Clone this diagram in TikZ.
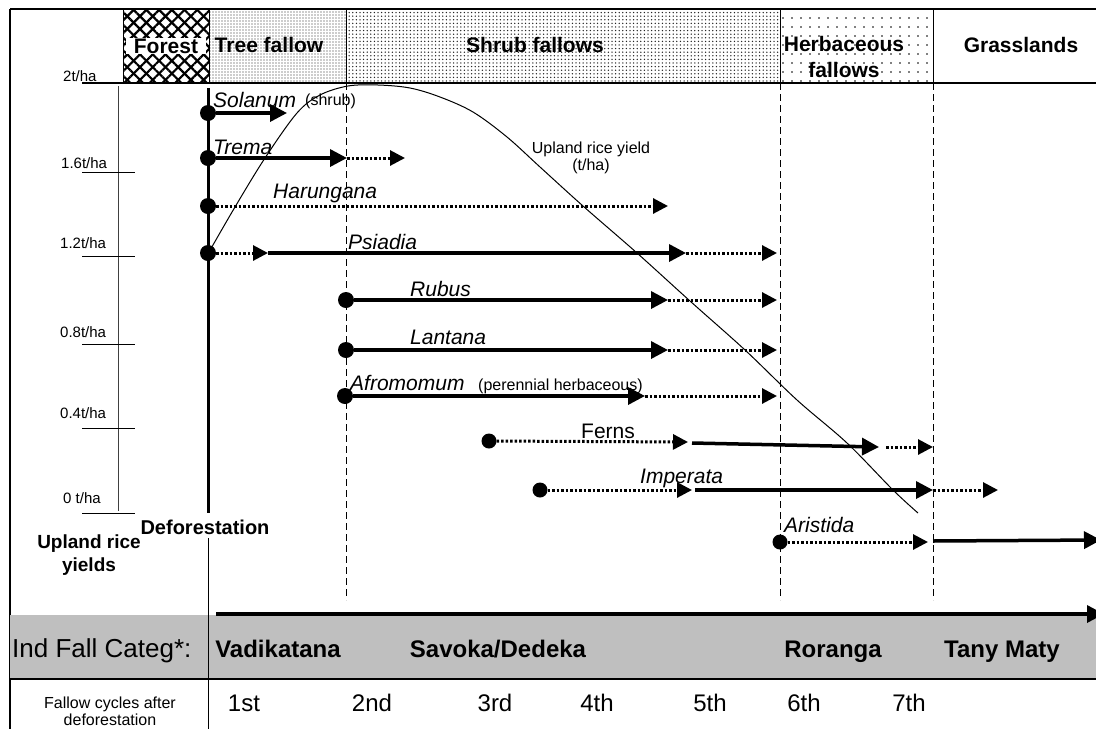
\documentclass[tikz,border=0pt]{standalone}
\usepackage{fontspec}
\setmainfont{Liberation Sans}
\usetikzlibrary{arrows.meta,patterns,patterns.meta}
\tikzset{
  frame/.style={line width=1.5pt},
  sepline/.style={line width=0.9pt,dash pattern=on 7pt off 4pt},
  hdr/.style={font=\fontsize{21}{26}\selectfont\bfseries,align=center,inner sep=1pt},
  spname/.style={font=\fontsize{21}{24}\selectfont\itshape,anchor=west,inner sep=0pt},
  note/.style={font=\fontsize{16}{17}\selectfont,inner sep=0pt},
  ylbl/.style={font=\fontsize{15}{17}\selectfont,anchor=west,inner sep=0pt},
  sdot/.style={circle,fill,inner sep=0pt,minimum size=16pt},
  full/.style={-{Triangle[length=17pt,width=17pt]},line width=3.5pt},
  part/.style={-{Triangle[length=15pt,width=15pt]},line width=3pt,dash pattern=on 2.5pt off 2pt},
  catlbl/.style={font=\fontsize{24}{26}\selectfont\bfseries,anchor=base},
  cyclbl/.style={font=\fontsize{24}{26}\selectfont,anchor=base}
}
\begin{document}
\begin{tikzpicture}[x=1pt,y=-1pt]
  \useasboundingbox (0,0) rectangle (1096,729);

  % header band
  \fill[pattern={Lines[angle=45,distance=9pt,line width=2.2pt]}] (123,9) rectangle (209,83);
  \fill[pattern={Lines[angle=-45,distance=9pt,line width=2.2pt]}] (123,9) rectangle (209,83);
  \fill[pattern={Dots[distance=3pt,radius=0.7pt]},pattern color=black!85] (209,9) rectangle (346,83);
  \fill[pattern={Dots[distance=3.6pt,radius=0.75pt]},pattern color=black!85] (346,9) rectangle (780,83);
  \fill[pattern={Dots[distance=9pt,radius=0.8pt]}] (780,9) rectangle (933,83);
  \draw[frame] (10,9) -- (1096,9);
  \draw[frame] (10,9) -- (10,729);
  \draw[line width=1.2pt] (82,83) -- (1096,83);
  \foreach \x in {123,209,346,780,933}
    \draw[line width=1pt] (\x,9) -- (\x,83);

  \node[hdr,fill=white,minimum width=80pt] (forest) at (166,46) {Forest};
  \node[hdr] (treef) at (269,45) {Tree fallow};
  \node[hdr] (shrubf) at (535,45) {Shrub fallows};
  \node[hdr] (herbf) at (844,57) {Herbaceous\\fallows};
  \node[hdr] (grassl) at (1021,45) {Grasslands};

  % stage limits
  \foreach \x in {346,780,933}
    \draw[sepline] (\x,83) -- (\x,600);

  % yield axis
  \draw[line width=0.9pt,black!75] (118,86) -- (118,511);
  \foreach \y in {172,256,344,428,513}
    \draw[line width=0.9pt] (82,\y) -- (135,\y);
  \node[ylbl] (y20) at (63,76) {2t/ha};
  \node[ylbl] (y16) at (61,163) {1.6t/ha};
  \node[ylbl] (y12) at (60,243) {1.2t/ha};
  \node[ylbl] (y08) at (60,332) {0.8t/ha};
  \node[ylbl] (y04) at (60,413) {0.4t/ha};
  \node[ylbl] (y00) at (63,498) {0 t/ha};
  \node[font=\fontsize{19}{23}\selectfont\bfseries,align=center] (ylds) at (89,555) {Upland rice\\yields};

  % deforestation
  \coordinate (defTop) at (208,88);
  \coordinate (defBot) at (208,513);
  \draw[line width=3pt] (defTop) -- (defBot);
  \node[font=\fontsize{20}{22}\selectfont\bfseries] (defo) at (205,527) {Deforestation};

  % yield curve
  \draw[line width=1pt] plot[smooth,tension=0.55] coordinates {(209,252) (235,207) (265,158) (297,113) (320,95) (348,86) (378,85) (410,88) (440,97) (473,112) (507,137) (540,167) (583,206) (637,253) (690,301) (745,350) (797,400) (847,443) (893,490) (918,513)};
  \node[note,align=center] (ylab) at (591,158) {Upland rice yield\\(t/ha)};

  % species
  \node[sdot] (solanum) at (208,113) {};
  \coordinate (solA) at (287,113);
  \draw[full] (solanum) -- (solA);
  \node[spname] (solT) at (213,100) {Solanum};
  \node[note,anchor=west] (shrub) at (305,101) {(shrub)};

  \node[sdot] (trema) at (208,158) {};
  \coordinate (treA) at (347,158);
  \coordinate (treB) at (405,158);
  \draw[full] (trema) -- (treA);
  \draw[part] (treA) -- (treB);
  \node[spname] (treT) at (213,147) {Trema};

  \node[sdot] (harungana) at (208,206) {};
  \coordinate (harA) at (668,206);
  \draw[part] (harungana) -- (harA);
  \node[spname] (harT) at (273,193) {Harungana};

  \node[sdot] (psiadia) at (208,253) {};
  \coordinate (psiA) at (268,253);
  \coordinate (psiB) at (686,253);
  \coordinate (psiC) at (777,253);
  \draw[part] (psiadia) -- (psiA);
  \draw[full] (psiA) -- (psiB);
  \draw[part] (psiB) -- (psiC);
  \node[spname] (psiT) at (348,242) {Psiadia};

  \node[sdot] (rubus) at (346,300) {};
  \coordinate (rubA) at (668,300);
  \coordinate (rubB) at (777,300);
  \draw[full] (rubus) -- (rubA);
  \draw[part] (rubA) -- (rubB);
  \node[spname] (rubT) at (410,289) {Rubus};

  \node[sdot] (lantana) at (346,350) {};
  \coordinate (lanA) at (668,350);
  \coordinate (lanB) at (777,350);
  \draw[full] (lantana) -- (lanA);
  \draw[part] (lanA) -- (lanB);
  \node[spname] (lanT) at (410,337) {Lantana};

  \node[sdot] (afromomum) at (345,396) {};
  \coordinate (afrA) at (645,396);
  \coordinate (afrB) at (777,396);
  \draw[full] (afromomum) -- (afrA);
  \draw[part] (afrA) -- (afrB);
  \node[spname] (afrT) at (350,383) {Afromomum};
  \node[note,anchor=west] (perh) at (478,386) {(perennial herbaceous)};

  \node[sdot,minimum size=15pt] (ferns) at (489,441) {};
  \coordinate (ferA) at (688,442);
  \coordinate (ferB) at (692,443);
  \coordinate (ferC) at (879,447);
  \coordinate (ferD) at (886,447);
  \coordinate (ferE) at (933,447);
  \draw[part] (ferns) -- (ferA);
  \draw[full] (ferB) -- (ferC);
  \draw[part] (ferD) -- (ferE);
  \node[font=\fontsize{21}{24}\selectfont,anchor=west,inner sep=0pt] (ferT) at (581,431) {Ferns};

  \node[sdot,minimum size=15pt] (imperata) at (540,490) {};
  \coordinate (impA) at (692,490);
  \coordinate (impB) at (695,490);
  \coordinate (impC) at (933,490);
  \coordinate (impD) at (998,490);
  \draw[part] (imperata) -- (impA);
  \draw[full] (impB) -- (impC);
  \draw[part] (impC) -- (impD);
  \node[spname] (impT) at (640,478) {Imperata};

  \node[sdot,minimum size=15pt] (aristida) at (780,542) {};
  \coordinate (ariA) at (928,542);
  \coordinate (ariB) at (933,541);
  \coordinate (ariC) at (1101,540);
  \draw[part] (aristida) -- (ariA);
  \draw[full] (ariB) -- (ariC);
  \node[spname] (ariT) at (784,525) {Aristida};

  % bottom table
  \fill[black!25] (10,615) rectangle (1096,679);
  \draw[line width=1.5pt] (10,679) -- (1096,679);
  \coordinate (tlA) at (216,614);
  \coordinate (tlB) at (1104,614);
  \draw[full] (tlA) -- (tlB);
  \coordinate (vlTop) at (208,538);
  \coordinate (vlBot) at (208,729);
  \draw[line width=1pt] (vlTop) -- (vlBot);

  \node[font=\fontsize{26}{28}\selectfont,anchor=base west,inner sep=0pt] (indf) at (12,657) {Ind Fall Categ*:};
  \node[catlbl] (vadi) at (278,657) {Vadikatana};
  \node[catlbl] (savo) at (498,657) {Savoka/Dedeka};
  \node[catlbl] (rora) at (833,657) {Roranga};
  \node[catlbl] (tany) at (1002,657) {Tany Maty};

  \node[note,align=center] (fcyc) at (110,711) {Fallow cycles after\\deforestation};
  \foreach \x/\c in {244/1st,372/2nd,495/3rd,597/4th,710/5th,804/6th,909/7th}
    \node[cyclbl] at (\x,711) {\c};
\end{tikzpicture}
\end{document}
